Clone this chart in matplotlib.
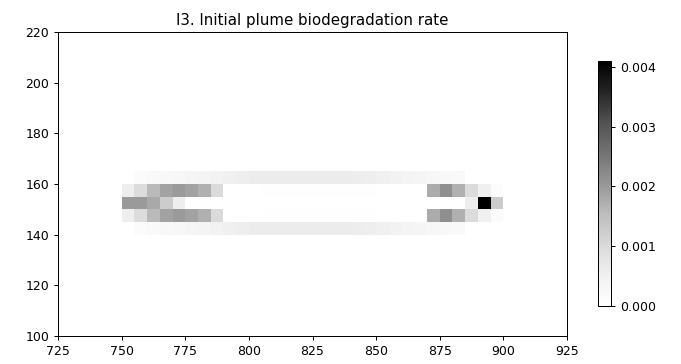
import numpy as np
import matplotlib
matplotlib.use("Agg")
import matplotlib.pyplot as plt

# column left edges (x) and row edges (y)
x_edges = list(range(750, 905, 5))          # 750 ... 900
y_edges = [140, 145, 150, 155, 160, 165]

# rows 140-145 and 160-165 (outer band)
row_outer = [0, 0.00015, 0.0002, 0.00025, 0.0003, 0.00035, 0.0004, 0.00045,
             0.0005, 0.00055, 0.0006, 0.0006, 0.0006, 0.0006, 0.0006, 0.0006,
             0.0006, 0.0006, 0.00058, 0.00055, 0.0005, 0.00045, 0.0004, 0.00035,
             0.0003, 0.00025, 0.0002, 0, 0, 0]
# rows 145-150 and 155-160 (inner band)
row_inner = [0.00055, 0.00095, 0.00157, 0.0019, 0.0020, 0.0019, 0.0017, 0.0010,
             0, 0, 0, 0.00005, 0.00005, 0.00005, 0.00005, 0.00005, 0.00005,
             0.00005, 0.00005, 0.00005, 0, 0, 0, 0,
             0.00177, 0.00215, 0.0017, 0.00098, 0.0005, 0.00016]
# row 150-155 (centre line)
row_center = [0.0020, 0.0020, 0.0018, 0.00127, 0.00055] + [0] * 22 + \
             [0.00055, 0.0041, 0.00127]

values = np.array([row_outer, row_inner, row_center, row_inner, row_outer])

cbar_ticks = [0.000, 0.001, 0.002, 0.003, 0.004]

fig = plt.figure(figsize=(681 / 90, 364 / 90), dpi=90)
ax = fig.add_axes([58 / 681, 1 - 336 / 364, (567 - 58) / 681, (336 - 32) / 364])
mesh = ax.pcolormesh(x_edges, y_edges, values, cmap="Greys", vmin=0, vmax=0.0041)
ax.set_xlim(725, 925)
ax.set_ylim(100, 220)
ax.set_xticks(range(725, 926, 25))
ax.set_yticks(range(100, 221, 20))
ax.set_title("I3. Initial plume biodegradation rate")

cax = fig.add_axes([598 / 681, 1 - 306 / 364, 13 / 681, (306 - 61) / 364])
cb = fig.colorbar(mesh, cax=cax, ticks=cbar_ticks, format="%.3f")

fig.savefig("out.png", dpi=90)
